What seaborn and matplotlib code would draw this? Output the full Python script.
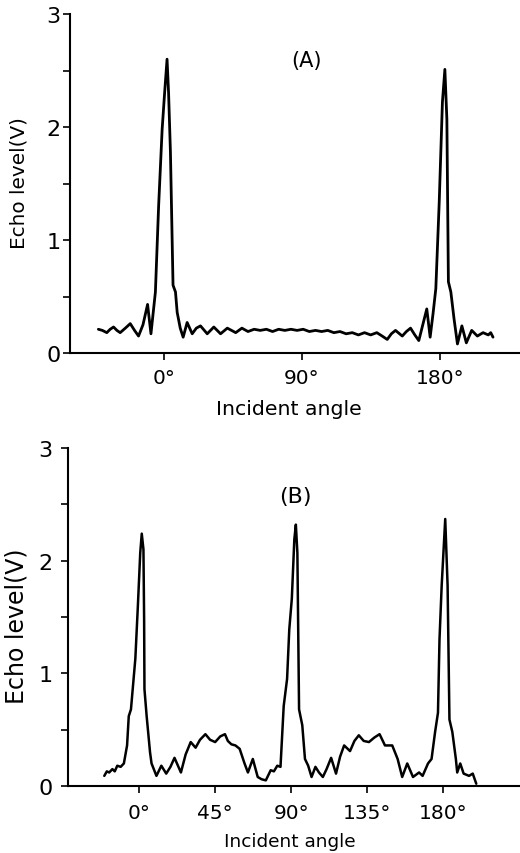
import numpy as np
import pandas as pd
import matplotlib
matplotlib.use("Agg")
import matplotlib.pyplot as plt
import seaborn as sns

# ---------------- data ----------------
a_angle = [-42.6, -40.0, -37.1, -34.9, -32.7, -30.5, -28.4, -25.0, -21.8, -19.0,
           -16.4, -13.5, -10.5, -8.3, -5.4, -3.3, -1.0, 0.6, 2.2, 3.2,
           4.4, 6.1, 7.7, 8.8, 10.8, 12.7, 15.3, 18.6, 21.3, 24.0,
           28.4, 32.7, 37.1, 41.5, 47.0, 51, 55, 59, 63, 67,
           71, 75, 79, 83, 87, 91, 95, 99, 103, 107,
           111, 115, 119, 123, 127, 131, 135, 139, 142.5, 145.8,
           148.5, 151.2, 155.6, 158.3, 161.0, 163.8, 166.4, 169.0, 171.6, 173.8,
           175.7, 177.5, 179.7, 181.8, 183.4, 184.7, 185.7, 187.3, 189.4, 191.6,
           194.5, 197.4, 200.9, 204.6, 208.3, 211.7, 213.3, 214.8]
a_echo = [0.21, 0.20, 0.18, 0.21, 0.23, 0.20, 0.18, 0.22, 0.26, 0.20,
          0.15, 0.25, 0.43, 0.17, 0.54, 1.30, 1.98, 2.30, 2.60, 2.30,
          1.78, 0.60, 0.54, 0.36, 0.22, 0.14, 0.27, 0.17, 0.22, 0.24,
          0.17, 0.23, 0.17, 0.22, 0.18, 0.22, 0.19, 0.21, 0.20, 0.21,
          0.19, 0.21, 0.20, 0.21, 0.20, 0.21, 0.19, 0.20, 0.19, 0.20,
          0.18, 0.19, 0.17, 0.18, 0.16, 0.18, 0.16, 0.18, 0.15, 0.12,
          0.17, 0.20, 0.15, 0.19, 0.22, 0.16, 0.11, 0.25, 0.39, 0.14,
          0.35, 0.57, 1.33, 2.22, 2.51, 2.07, 0.63, 0.54, 0.30, 0.08,
          0.24, 0.09, 0.20, 0.15, 0.18, 0.16, 0.18, 0.14]

b_angle = [-20.7, -19.2, -17.8, -15.9, -14.5, -13.0, -11.0, -9.1, -7.2, -6.2,
           -4.9, -2.3, -0.8, 0.6, 1.5, 2.5, 2.9, 3.1, 4.4, 6.4,
           7.3, 10.2, 13.1, 16.0, 18.5, 20.9, 24.7, 27.5, 30.5, 33.4,
           36.0, 39.2, 42.0, 45.0, 48.0, 50.8, 52.5, 54.6, 57.0, 59.5,
           62.4, 64.4, 67.3, 70.2, 72.5, 75.0, 77.9, 79.8, 81.8, 83.7,
           85.6, 87.6, 88.9, 90.4, 91.9, 92.8, 93.7, 94.7, 96.6, 98.2,
           100.1, 102.1, 104.4, 106.5, 108.8, 111.0, 113.7, 116.6, 119.0, 121.4,
           124.9, 127.5, 130.1, 133.0, 136.1, 139.3, 142.4, 145.6, 149.9, 153.1,
           155.8, 158.8, 162.2, 165.8, 167.9, 171.1, 173.2, 175.3, 177.0, 177.9,
           179.2, 181.3, 182.7, 183.8, 185.5, 187.6, 188.4, 190.2, 192.2, 195.4,
           197.6, 199.7]
b_echo = [0.09, 0.13, 0.12, 0.15, 0.13, 0.18, 0.17, 0.20, 0.36, 0.62,
          0.68, 1.13, 1.60, 2.07, 2.24, 2.10, 1.48, 0.86, 0.62, 0.30,
          0.20, 0.09, 0.18, 0.11, 0.17, 0.25, 0.12, 0.28, 0.39, 0.34,
          0.41, 0.46, 0.41, 0.39, 0.44, 0.46, 0.40, 0.37, 0.36, 0.33,
          0.20, 0.12, 0.24, 0.08, 0.06, 0.05, 0.14, 0.13, 0.18, 0.17,
          0.71, 0.95, 1.39, 1.66, 2.19, 2.32, 2.07, 0.68, 0.54, 0.24,
          0.18, 0.08, 0.17, 0.12, 0.08, 0.15, 0.25, 0.11, 0.26, 0.36,
          0.31, 0.40, 0.45, 0.40, 0.39, 0.43, 0.46, 0.36, 0.36, 0.24,
          0.08, 0.20, 0.08, 0.12, 0.09, 0.20, 0.24, 0.48, 0.65, 1.30,
          1.78, 2.37, 1.78, 0.59, 0.48, 0.24, 0.12, 0.20, 0.11, 0.09,
          0.11, 0.02]

a_xticks = [0, 90, 180]
a_xlabels = ["0°", "90°", "180°"]
b_xticks = [0, 45, 90, 135, 180]
b_xlabels = ["0°", "45°", "90°", "135°", "180°"]
yticks = [0, 0.5, 1, 1.5, 2, 2.5, 3]
ylabels = ["0", "", "1", "", "2", "", "3"]

# ---------------- style ----------------
sns.set_style("ticks")
plt.rcParams["font.family"] = ["DejaVu Sans"]

W, H = 520, 854
fig = plt.figure(figsize=(W / 100, H / 100), dpi=100)

def px_axes(l, r, t, b):
    return fig.add_axes([l / W, 1 - b / H, (r - l) / W, (b - t) / H])

axA = px_axes(70, 520, 15, 354)
axB = px_axes(68, 520, 449, 787)

dfA = pd.DataFrame({"angle": a_angle, "echo": a_echo})
dfB = pd.DataFrame({"angle": b_angle, "echo": b_echo})

sns.lineplot(data=dfA, x="angle", y="echo", ax=axA, color="black",
             linewidth=2.0, sort=False, estimator=None)
sns.lineplot(data=dfB, x="angle", y="echo", ax=axB, color="black",
             linewidth=1.8, sort=False, estimator=None)

def style(ax, xlim, xt, xl, ylabpos, xlabpos, ylab_size, xlab_size, ypad, xpad):
    ax.set_xlim(*xlim)
    ax.set_ylim(0, 3)
    ax.set_xticks(xt)
    ax.set_xticklabels(xl, fontsize=14.5)
    ax.set_yticks(yticks)
    ax.set_yticklabels(ylabels, fontsize=16)
    ax.tick_params(axis="y", length=5, width=1.2, pad=ypad, colors="black")
    ax.tick_params(axis="x", length=5, width=1.2, pad=xpad, colors="black")
    sns.despine(ax=ax)
    for s in ["left", "bottom"]:
        ax.spines[s].set_linewidth(1.5)
        ax.spines[s].set_color("black")
    ax.set_ylabel("Echo level(V)", fontsize=ylab_size, color="black")
    ax.set_xlabel("Incident angle", fontsize=xlab_size, color="black")
    ax.yaxis.set_label_coords(*ylabpos)
    ax.xaxis.set_label_coords(*xlabpos)
    ax.patch.set_alpha(0)

style(axA, (-61.1, 232.4), a_xticks, a_xlabels, (-0.093, 0.504), (0.487, -0.136), 14.4, 14.7, 2, 6)
style(axB, (-42.2, 225.6), b_xticks, b_xlabels, (-0.088, 0.477), (0.49, -0.136), 17, 13.3, 6, 7)

axA.text(93, 2.59, "(A)", ha="center", va="center", fontsize=15, color="black")
axB.text(92.5, 2.57, "(B)", ha="center", va="center", fontsize=16, color="black")

fig.savefig("out.png", dpi=100, facecolor="white")
